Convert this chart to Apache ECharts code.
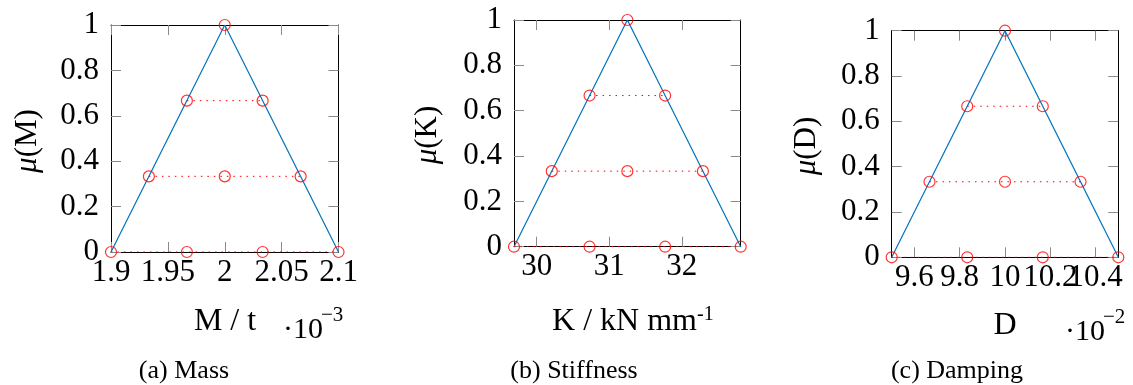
<!DOCTYPE html>
<html>
<head>
<meta charset="utf-8">
<script src="https://cdn.jsdelivr.net/npm/echarts@6/dist/echarts.min.js"></script>
<style>
html,body{margin:0;padding:0;background:#fff;}
#chart{width:1133px;height:385px;}
</style>
</head>
<body>
<div id="chart"></div>
<script>
// ---------------- data ----------------
const yTicks = [0, 0.2, 0.4, 0.6, 0.8, 1];
const triY = [0, 1, 0];
const alphaLevels = [0, 0.3333, 0.6667, 1];

const massTicks = [1.9, 1.95, 2, 2.05, 2.1];
const massTriX = [1.9, 2.0, 2.1];
const massCuts = [[1.9, 1.9667, 2.0333, 2.1], [1.9333, 2.0, 2.0667], [1.9667, 2.0333], [2.0]];

const stiffTicks = [30, 31, 32];
const stiffTriX = [29.6875, 31.25, 32.8125];
const stiffCuts = [[29.6875, 30.7292, 31.7708, 32.8125], [30.2083, 31.25, 32.2917], [30.7292, 31.7708], [31.25]];

const dampTicks = [9.6, 9.8, 10, 10.2, 10.4];
const dampTriX = [9.5, 10, 10.5];
const dampCuts = [[9.5, 9.8333, 10.1667, 10.5], [9.6667, 10.0, 10.3333], [9.8333, 10.1667], [10.0]];

// ---------------- layout / style ----------------
const FONT = '"Liberation Serif", "Times New Roman", serif';
const BLUE = '#0072bd';
const RED = '#ff0000';
const TICK = '#8a8a8a';
const TICK_FS = 31;

const panels = [
  {ticks: massTicks, triX: massTriX, cuts: massCuts,
   grid: {left: 111, top: 25, width: 227.5, height: 227}},
  {ticks: stiffTicks, triX: stiffTriX, cuts: stiffCuts,
   grid: {left: 514, top: 20, width: 226.7, height: 226.7}},
  {ticks: dampTicks, triX: dampTriX, cuts: dampCuts,
   grid: {left: 891.7, top: 30.7, width: 226.6, height: 226.6}}
];

const fmt = v => String(parseFloat(Number(v).toFixed(4)));
const grid = [], xAxis = [], yAxis = [], series = [];
panels.forEach((p, i) => {
  grid.push(Object.assign({containLabel: false}, p.grid));
  const xmin = p.triX[0], xmax = p.triX[p.triX.length - 1];
  const baseX = {
    type: 'value', gridIndex: i, min: xmin, max: xmax,
    axisLine: {show: true, onZero: false, lineStyle: {color: '#000', width: 1}},
    axisTick: {show: true, inside: true, length: 10, customValues: p.ticks, lineStyle: {color: TICK, width: 1}},
    splitLine: {show: false}
  };
  const labelBase = {show: true, margin: 5, color: '#000', fontFamily: FONT, fontSize: TICK_FS,
    hideOverlap: false, showMinLabel: true, showMaxLabel: true, formatter: fmt};
  const evenTicks = p.ticks.filter((t, k) => k % 2 === 0);
  const oddTicks = p.ticks.filter((t, k) => k % 2 === 1);
  xAxis.push(Object.assign({}, baseX, {
    position: 'bottom',
    axisLabel: Object.assign({}, labelBase, {customValues: evenTicks})
  }));
  xAxis.push(Object.assign({}, baseX, {position: 'top', axisLabel: {show: false}}));
  xAxis.push(Object.assign({}, baseX, {
    position: 'bottom', offset: 0,
    axisLine: {show: false}, axisTick: {show: false},
    axisLabel: Object.assign({}, labelBase, {customValues: oddTicks})
  }));
  const baseY = {
    type: 'value', gridIndex: i, min: 0, max: 1,
    axisLine: {show: true, onZero: false, lineStyle: {color: '#000', width: 1}},
    axisTick: {show: true, inside: true, length: 10, customValues: yTicks, lineStyle: {color: TICK, width: 1}},
    splitLine: {show: false}
  };
  yAxis.push(Object.assign({}, baseY, {
    position: 'left',
    axisLabel: {show: true, customValues: yTicks, margin: 12, color: '#000', fontFamily: FONT, fontSize: TICK_FS,
      hideOverlap: false, formatter: fmt}
  }));
  yAxis.push(Object.assign({}, baseY, {position: 'right', axisLabel: {show: false}}));

  const xi = i * 3, yi = i * 2;
  series.push({
    type: 'line', xAxisIndex: xi, yAxisIndex: yi, silent: true,
    data: p.triX.map((x, k) => [x, triY[k]]),
    showSymbol: false, lineStyle: {color: BLUE, width: 1.2}, z: 2
  });
  p.cuts.forEach((row, k) => {
    if (row.length < 2) return;
    series.push({
      type: 'line', xAxisIndex: xi, yAxisIndex: yi, silent: true,
      data: [[row[0], alphaLevels[k]], [row[row.length - 1], alphaLevels[k]]],
      showSymbol: false, lineStyle: {color: RED, width: 1, type: [1.5, 5]}, z: 3
    });
  });
  const pts = [];
  p.cuts.forEach((row, k) => row.forEach(x => pts.push([x, alphaLevels[k]])));
  series.push({
    type: 'scatter', xAxisIndex: xi, yAxisIndex: yi, silent: true,
    data: pts, symbol: 'circle', symbolSize: 11,
    itemStyle: {color: 'rgba(0,0,0,0)', borderColor: RED, borderWidth: 1.2}, z: 4
  });
});

function txt(x, y, text, size, opts) {
  const o = {
    type: 'text', x: x, y: y, silent: true,
    style: Object.assign({text: text, fontFamily: FONT, fontSize: size, fill: '#000',
      align: 'center', verticalAlign: 'middle'}, (opts && opts.style) || {})
  };
  if (opts && opts.rotation) o.rotation = opts.rotation;
  return o;
}
const rich = {i: {fontStyle: 'italic', fontFamily: FONT, fontSize: 31}, n: {fontFamily: FONT, fontSize: 31}};
const graphic = [
  txt(28, 141, '{i|μ}{n|(M)}', 31, {rotation: Math.PI / 2, style: {rich: rich}}),
  txt(428, 135, '{i|μ}{n|(K)}', 31, {rotation: Math.PI / 2, style: {rich: rich}}),
  txt(807, 146, '{i|μ}{n|(D)}', 31, {rotation: Math.PI / 2, style: {rich: rich}}),
  txt(225, 322, 'M / t', 32),
  txt(697, 322, 'K / kN mm', 32, {style: {align: 'right'}}),
  txt(697, 315, '-1', 20, {style: {align: 'left'}}),
  txt(1005, 326, 'D', 32),
  txt(283, 330, '·10', 30, {style: {align: 'left'}}),
  txt(321, 315, '−3', 21, {style: {align: 'left'}}),
  txt(1065, 332, '·10', 30, {style: {align: 'left'}}),
  txt(1103, 317, '−2', 21, {style: {align: 'left'}}),
  txt(184, 371, '(a) Mass', 26),
  txt(574, 371, '(b) Stiffness', 26),
  txt(957, 371, '(c) Damping', 26)
];

const chart = echarts.init(document.getElementById('chart'), null, {renderer: 'canvas'});
chart.setOption({
  animation: false,
  backgroundColor: '#fff',
  textStyle: {fontFamily: FONT},
  grid: grid, xAxis: xAxis, yAxis: yAxis, series: series, graphic: graphic
});
</script>
</body>
</html>
